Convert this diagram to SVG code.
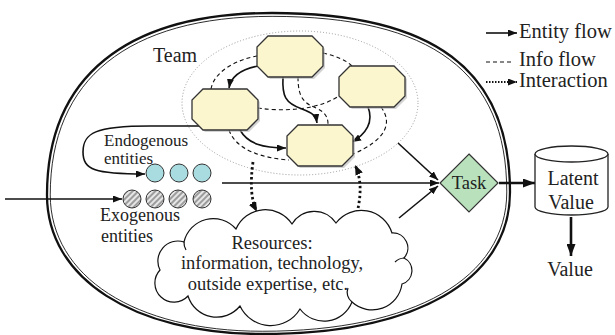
<svg xmlns="http://www.w3.org/2000/svg" xmlns:xlink="http://www.w3.org/1999/xlink" width="615" height="335" viewBox="0 0 615 335">
  <style>
    text { font-family: "Liberation Serif", "Times New Roman", serif; fill: #222; }
    .member { fill: #FBF6CE; stroke: #333; stroke-width: 1.3; }
    .shadow { fill: #b5b5b5; stroke: none; opacity: 0.6; }
    .flow { fill: none; stroke: #111; stroke-width: 1.6; }
    .info { fill: none; stroke: #111; stroke-width: 1.1; stroke-dasharray: 4 3; }
    .interact { fill: none; stroke: #111; stroke-width: 2.8; stroke-dasharray: 2.4 2.6; }
    .thick { fill: none; stroke: #111; stroke-width: 2.6; }
    .cloud-line { fill: none; stroke: #111; stroke-width: 1.2; }
  </style>
  <defs>
    <polygon id="oct" points="11,0 55,0 66,11 66,30 55,41 11,41 0,30 0,11"/>
    <marker id="arr" markerUnits="userSpaceOnUse" markerWidth="9" markerHeight="7" refX="9" refY="3.5" orient="auto">
      <path d="M0,0 L9,3.5 L0,7 Z" fill="#111"/>
    </marker>
    <marker id="arrBig" markerUnits="userSpaceOnUse" markerWidth="12" markerHeight="9" refX="12" refY="4.5" orient="auto">
      <path d="M0,0 L12,4.5 L0,9 Z" fill="#111"/>
    </marker>
    <marker id="arrDot" markerUnits="userSpaceOnUse" markerWidth="10" markerHeight="8" refX="10" refY="4" orient="auto">
      <path d="M0,0 L10,4 L0,8 Z" fill="#111"/>
    </marker>
    <pattern id="hatch" patternUnits="userSpaceOnUse" width="4" height="4" patternTransform="rotate(45)">
      <rect width="4" height="4" fill="#e6e6e6"/>
      <rect width="2" height="4" fill="#9c9c9c"/>
    </pattern>
  </defs>

  <!-- organisation boundary: heavy outer line with a thin inner line -->
  <g id="organisation">
    <path d="M47,195 C47,77 126,13 272,13 C434,13 510,70 510,192 C510,280 416,334 262,334 C133,334 47,278 47,195 Z" fill="none" stroke="#111" stroke-width="2.3"/>
    <path d="M47,195 C47,77 126,13 272,13 C434,13 510,70 510,192 C510,280 416,334 262,334 C133,334 47,278 47,195 Z" fill="none" stroke="#111" stroke-width="0.9" transform="translate(279 190) scale(0.986 0.981) translate(-279 -190)"/>
  </g>

  <!-- team boundary -->
  <g id="team">
    <ellipse cx="300" cy="103" rx="118" ry="72" fill="none" stroke="#999" stroke-width="1" stroke-dasharray="1 2"/>
    <text x="153" y="62" font-size="20">Team</text>
  </g>

  <!-- connectors -->
  <g id="connectors">
    <!-- entity flows between team members -->
    <path class="flow" d="M258,66 C243,69 231,76 229,88" marker-end="url(#arr)"/>
    <path class="flow" d="M283,77 C282,96 285,103 302,109 C313,113 316,116 317,123" marker-end="url(#arr)"/>
    <path class="flow" d="M240,130 C248,144 263,148 286,148" marker-end="url(#arr)"/>
    <path class="flow" d="M368,107 C374,122 366,134 352,142" marker-end="url(#arr)"/>
    <!-- info flows -->
    <path class="info" d="M211,89 C214,72 235,60 257,56"/>
    <path class="info" d="M323,53 C336,56 346,60 352,66"/>
    <path class="info" d="M298,77 C298,98 304,103 316,108 C325,112 328,117 328,124"/>
    <path class="info" d="M258,108 C285,112 322,110 343,93"/>
    <path class="info" d="M229,130 C236,150 262,158 289,160"/>
    <path class="info" d="M381,107 C393,123 386,140 353,154"/>
    <!-- interactions with resources -->
    <path class="interact" d="M253,162 C250,184 251,200 257,212" marker-end="url(#arrDot)"/>
    <path class="interact" d="M357,213 C361,196 362,180 355,165" marker-end="url(#arrDot)"/>
    <!-- entities entering -->
    <path class="flow" d="M199,126 L150,126 C95,126 83,133 83,152 C83,170 95,174 145,174" marker-end="url(#arr)"/>
    <path class="flow" d="M5,199 L122,199" marker-end="url(#arr)"/>
    <!-- into the task -->
    <path class="flow" d="M222,183 L439,183" marker-end="url(#arr)"/>
    <path class="flow" d="M398,143 L438,180" marker-end="url(#arr)"/>
    <path class="flow" d="M399,218 L438,186" marker-end="url(#arr)"/>
    <!-- outputs -->
    <path class="thick" d="M499,183 L535,183" marker-end="url(#arrBig)"/>
    <path class="thick" d="M571,217 L571,256" marker-end="url(#arrBig)"/>
  </g>

  <!-- team members -->
  <g id="member-a" transform="translate(257 36)">
    <use href="#oct" x="2" y="2" class="shadow"/>
    <use href="#oct" class="member"/>
  </g>
  <g id="member-b" transform="translate(192 89)">
    <use href="#oct" x="2" y="2" class="shadow"/>
    <use href="#oct" class="member"/>
  </g>
  <g id="member-c" transform="translate(339 66)">
    <use href="#oct" x="2" y="2" class="shadow"/>
    <use href="#oct" class="member"/>
  </g>
  <g id="member-d" transform="translate(287 125)">
    <use href="#oct" x="2" y="2" class="shadow"/>
    <use href="#oct" class="member"/>
  </g>

  <!-- endogenous entities -->
  <g id="endogenous">
    <circle cx="155" cy="173" r="9" fill="#A8DCE0" stroke="#333" stroke-width="1"/>
    <circle cx="179" cy="173" r="9" fill="#A8DCE0" stroke="#333" stroke-width="1"/>
    <circle cx="202" cy="173" r="9" fill="#A8DCE0" stroke="#333" stroke-width="1"/>
    <text x="104" y="146" font-size="17">Endogenous</text>
    <text x="104" y="163.5" font-size="17">entities</text>
  </g>

  <!-- exogenous entities -->
  <g id="exogenous">
    <circle cx="132" cy="199" r="9" fill="url(#hatch)" stroke="#333" stroke-width="1"/>
    <circle cx="155" cy="199" r="9" fill="url(#hatch)" stroke="#333" stroke-width="1"/>
    <circle cx="178" cy="199" r="9" fill="url(#hatch)" stroke="#333" stroke-width="1"/>
    <circle cx="202" cy="199" r="9" fill="url(#hatch)" stroke="#333" stroke-width="1"/>
    <text x="100" y="221" font-size="18">Exogenous</text>
    <text x="101" y="242" font-size="18">entities</text>
  </g>

  <!-- resources cloud -->
  <g id="resources">
    <path d="M160,270 A20,20 0 0 1 184,242 A30,30 0 0 1 236,229 A32,32 0 0 1 292,224 A26,26 0 0 1 336,223 A32,32 0 0 1 392,233 A15,15 0 0 1 404,258 A14,14 0 0 1 402,284 A30,30 0 0 1 352,302 A30,30 0 0 1 300,309 A34,34 0 0 1 240,306 A30,30 0 0 1 188,296 A18,18 0 0 1 160,270 Z" fill="#fff" stroke="#111" stroke-width="1.2"/>
    <path class="cloud-line" d="M404,258 A14,14 0 0 0 395,262"/>
    <path class="cloud-line" d="M352,302 A12,12 0 0 1 348,288"/>
    <path class="cloud-line" d="M184,242 A14,14 0 0 0 186,250"/>
    <text x="272" y="249" font-size="18.5" text-anchor="middle">Resources:</text>
    <text x="272" y="269" font-size="18.5" text-anchor="middle">information, technology,</text>
    <text x="268" y="290" font-size="18.5" text-anchor="middle">outside expertise, etc.</text>
  </g>

  <!-- task -->
  <g id="task">
    <polygon points="469,154 498,183 469,212 440,183" fill="#B9E2BC" stroke="#333" stroke-width="1.2"/>
    <text x="469" y="189" font-size="18.5" text-anchor="middle">Task</text>
  </g>

  <!-- latent value store -->
  <g id="latent-value">
    <path d="M535,154 L535,207 A36.5,8 0 0 0 608,207 L608,154" fill="#fff" stroke="#222" stroke-width="1.3"/>
    <ellipse cx="571.5" cy="154" rx="36.5" ry="8" fill="#fff" stroke="#222" stroke-width="1.3"/>
    <text x="573" y="185" font-size="20" text-anchor="middle">Latent</text>
    <text x="571" y="209" font-size="20" text-anchor="middle">Value</text>
  </g>

  <g id="value">
    <text x="570" y="276" font-size="20" text-anchor="middle">Value</text>
  </g>

  <!-- legend -->
  <g id="legend">
    <path class="flow" d="M486,33 L517,33" marker-end="url(#arr)"/>
    <path d="M486,62 L513,62" fill="none" stroke="#111" stroke-width="1.1" stroke-dasharray="4 3"/>
    <path d="M486,82 L517,82" fill="none" stroke="#111" stroke-width="1.8" stroke-dasharray="1.5 1.5" marker-end="url(#arr)"/>
    <text x="519" y="38" font-size="20.5">Entity flow</text>
    <text x="519" y="66" font-size="20.5">Info flow</text>
    <text x="519" y="87" font-size="20.5">Interaction</text>
  </g>
</svg>
